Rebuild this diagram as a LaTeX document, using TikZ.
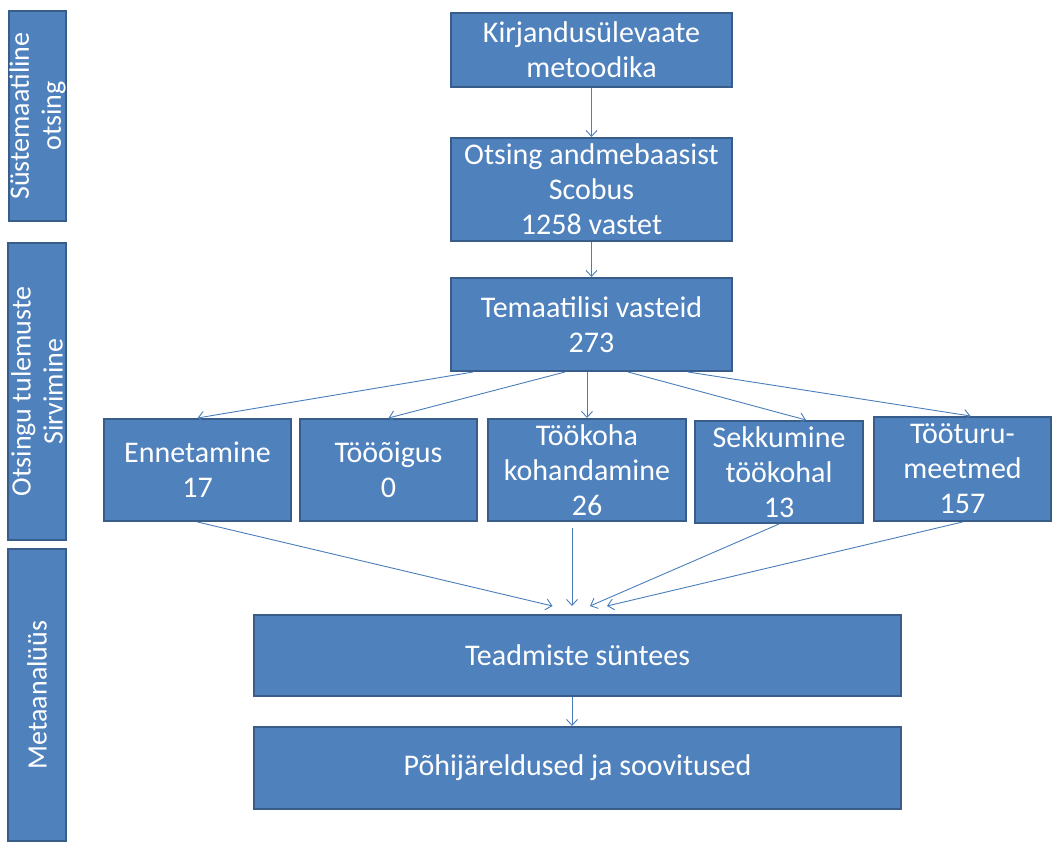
\documentclass[tikz,border=0pt]{standalone}
\usepackage{fontspec}
\setmainfont{Carlito}
\usetikzlibrary{arrows.meta}
\definecolor{boxfill}{HTML}{4F81BD}
\definecolor{boxline}{HTML}{385D8A}
\definecolor{conncol}{HTML}{4A7EBB}
\begin{document}
\begin{tikzpicture}[x=1pt,y=-1pt,
  bx/.style={draw=boxline,fill=boxfill,line width=2pt,text=white,align=center,inner sep=0pt,font=\fontsize{30}{35}\selectfont},
  side/.style={bx,rotate=90,font=\fontsize{28}{32}\selectfont},
  arr/.style={draw=conncol,line width=0.9pt,-{Straight Barb[length=6pt,width=11pt]}}]
\useasboundingbox (0,0) rectangle (1058,845);
\clip (0,0) rectangle (1058,845);
% side column
\node[side,minimum width=210,minimum height=57] (sa) at (37.5,116) {Süstemaatiline\\otsing};
\node[side,minimum width=297,minimum height=58] (sb) at (37,391.5) {Otsingu tulemuste\\Sirvimine};
\node[side,minimum width=292,minimum height=58] (sc) at (37,695) {Metaanalüüs};
% main column
\node[bx,minimum width=281,minimum height=74] (kir) at (591.5,50) {Kirjandusülevaate\\metoodika};
\node[bx,minimum width=281,minimum height=103] (ots) at (591.5,189.5) {Otsing andmebaasist\\Scobus\\1258 vastet};
\node[bx,minimum width=281,minimum height=93] (tem) at (591.5,324.5) {Temaatilisi vasteid\\273};
% row
\node[bx,minimum width=187,minimum height=102] (enn) at (197.5,470) {Ennetamine\\17};
\node[bx,minimum width=177,minimum height=102] (too) at (388.5,470) {Tööõigus\\0};
\node[bx,minimum width=198,minimum height=102] (tkh) at (587,470) {Töökoha\\kohandamine\\26};
\node[bx,minimum width=168,minimum height=102] (sek) at (779,472) {Sekkumine\\töökohal\\13};
\node[bx,minimum width=177,minimum height=104] (ttm) at (962.5,469) {Tööturu-\\meetmed\\157};
% bottom
\node[bx,minimum width=647,minimum height=81] (tea) at (577.5,655.5) {Teadmiste süntees};
\node[bx,minimum width=647,minimum height=82] (poh) at (577.5,768) {Põhijäreldused ja soovitused};
% connector ends
\coordinate (s1) at ([xshift=23pt]tem.south west);
\coordinate (s2) at ([xshift=115pt]tem.south west);
\coordinate (s3) at ([xshift=137pt]tem.south west);
\coordinate (s4) at ([xshift=178pt]tem.south west);
\coordinate (s5) at ([xshift=238pt]tem.south west);
\coordinate (e4) at ([xshift=27pt]sek.north);
\coordinate (e5) at ([xshift=8pt]ttm.north);
\coordinate (b3) at ([xshift=-15pt,yshift=-6pt]tkh.south);
\coordinate (m1) at ([xshift=-25pt,yshift=8pt]tea.north);
\coordinate (m2) at ([xshift=-5.5pt,yshift=8pt]tea.north);
\coordinate (m3) at ([xshift=12.5pt,yshift=8pt]tea.north);
\coordinate (m4) at ([xshift=29.5pt,yshift=8pt]tea.north);
\coordinate (p1) at ([xshift=-5.5pt]tea.south);
\coordinate (p2) at ([xshift=-5.5pt]poh.north);
% connectors
\draw[arr] (kir.south) -- (ots.north);
\draw[arr] (ots.south) -- (tem.north);
\draw[arr] (s1) -- (enn.north);
\draw[arr] (s2) -- (too.north);
\draw[arr] (s3) -- (s3 |- tkh.north);
\draw[arr] (s4) -- (e4);
\draw[arr] (s5) -- (e5);
\draw[arr] (enn.south) -- (m1);
\draw[arr] (b3) -- (m2);
\draw[arr] (sek.south) -- (m3);
\draw[arr] (ttm.south) -- (m4);
\draw[arr] (p1) -- (p2);
\end{tikzpicture}
\end{document}
